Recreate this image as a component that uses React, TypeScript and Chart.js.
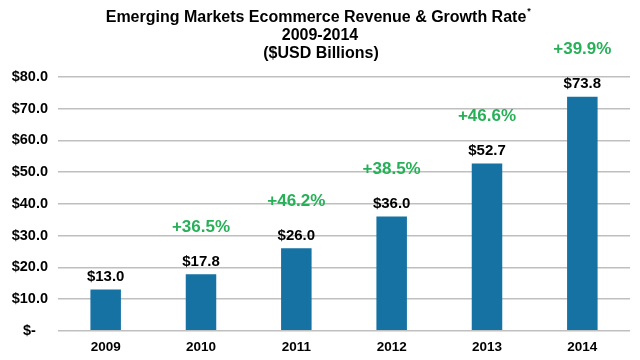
import React, { useEffect, useRef } from "react";
import { Chart, registerables } from "chart.js";

Chart.register(...registerables);

const years = ["2009", "2010", "2011", "2012", "2013", "2014"];
const revenue = [13.0, 17.8, 26.0, 36.0, 52.7, 73.8];
const growth: (number | null)[] = [null, 36.5, 46.2, 38.5, 46.6, 39.9];
const titleLines = ["Emerging Markets Ecommerce Revenue & Growth Rate", "2009-2014", "($USD Billions)"];

const FONT = "'Liberation Sans', Arial, sans-serif";

const labelPlugin = {
  id: "labels",
  afterDatasetsDraw(chart: any) {
    const ctx = chart.ctx;
    const meta = chart.getDatasetMeta(0);
    ctx.save();
    ctx.textAlign = "center";
    meta.data.forEach((bar: any, i: number) => {
      ctx.fillStyle = "#000";
      ctx.font = `bold 15px ${FONT}`;
      ctx.textBaseline = "bottom";
      ctx.fillText("$" + revenue[i].toFixed(1), bar.x, bar.y - 5);
      const g = growth[i];
      if (g != null) {
        ctx.fillStyle = "#27b058";
        ctx.font = `bold 17px ${FONT}`;
        ctx.textBaseline = "middle";
        ctx.fillText("+" + g.toFixed(1) + "%", bar.x, bar.y - 47);
      }
    });
    ctx.restore();
  },
  afterDraw(chart: any) {
    const ctx = chart.ctx;
    ctx.save();
    ctx.fillStyle = "#000";
    ctx.textAlign = "center";
    ctx.textBaseline = "middle";
    ctx.font = `bold 16px ${FONT}`;
    const ys = [18, 36, 54];
    const xs = [316, 320, 321];
    titleLines.forEach((t, i) => ctx.fillText(t, xs[i], ys[i]));
    ctx.font = `bold 16px ${FONT}`;
    const w = ctx.measureText(titleLines[0]).width;
    ctx.font = `bold 9px ${FONT}`;
    ctx.textAlign = "left";
    ctx.fillText("*", xs[0] + w / 2 + 1, 12);
    ctx.restore();
  },
};

export default function App() {
  const ref = useRef<HTMLCanvasElement>(null);
  useEffect(() => {
    if (!ref.current) return;
    const chart = new Chart(ref.current, {
      type: "bar",
      data: {
        labels: years,
        datasets: [
          {
            data: revenue,
            backgroundColor: "#1572a3",
            barPercentage: 0.32,
            categoryPercentage: 1,
          },
        ],
      },
      options: {
        animation: false,
        responsive: false,
        maintainAspectRatio: false,
        layout: { padding: { top: 77, right: 10, bottom: -3, left: 0 } },
        plugins: { legend: { display: false }, tooltip: { enabled: false }, title: { display: false } },
        scales: {
          x: {
            grid: { display: false, drawTicks: false },
            border: { display: false },
            ticks: { color: "#000", font: { family: FONT, size: 13.5, weight: "bold" }, padding: 8 },
          },
          y: {
            min: 0,
            max: 80,
            afterFit: (s: any) => { s.width = 58; },
            grid: { color: "#bfbfbf", lineWidth: 1.5, drawTicks: false },
            border: { display: false },
            ticks: {
              stepSize: 10,
              padding: 10,
              color: "#000",
              font: { family: FONT, size: 14.5, weight: "bold" },
              callback: (v: any) => (v === 0 ? "$-   " : "$" + Number(v).toFixed(1)),
            },
          },
        },
      },
      plugins: [labelPlugin],
    });
    return () => chart.destroy();
  }, []);
  return (
    <div style={{ position: "fixed", left: 0, top: 0, width: 640, height: 360, background: "#fff" }}>
      <canvas ref={ref} width={640} height={360} />
    </div>
  );
}
